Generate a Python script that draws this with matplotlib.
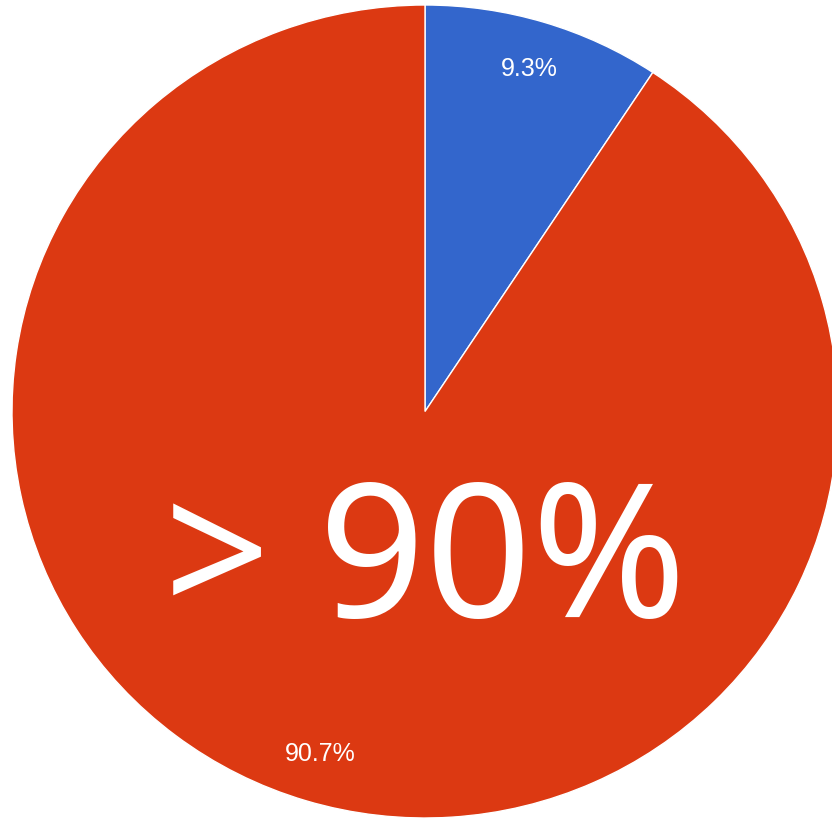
import matplotlib.pyplot as plt

# slice values (percent)
labels = ['Below 90%', 'Above 90%']
values = [9.3, 90.7]
colors = ['#3366CC', '#DC3912']
headline = '> 90%'

fig = plt.figure(figsize=(8.32, 8.19), dpi=100)
ax = fig.add_axes([0, 0, 1, 1])

wedges, texts, autotexts = ax.pie(values, colors=colors, startangle=90, counterclock=False,
                                  autopct='%.1f%%', pctdistance=0.88,
                                  wedgeprops=dict(edgecolor='white', linewidth=1))
for t in autotexts:
    t.set_color('white')
    t.set_fontsize(18)
    t.set_family('Liberation Sans')

# the original is slightly squashed vertically
ax.set_aspect('auto')
ax.set_xlim(-425 / 413, (832 - 425) / 413)
ax.set_ylim(-(819 - 411.5) / 406.5, 411.5 / 406.5)
ax.axis('off')

ax.text(0.0, -0.505, headline, color='white', fontsize=134, family=['Noto Sans', 'DejaVu Sans'],
        ha='center', va='baseline')

fig.savefig('out.png', dpi=100)
